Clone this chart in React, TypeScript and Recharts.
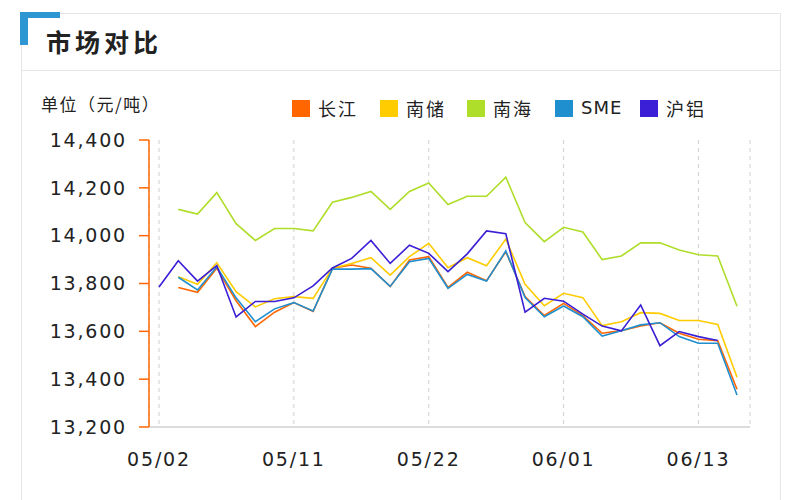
import React from "react";
import { LineChart, Line, XAxis, YAxis, CartesianGrid } from "recharts";

const dates = [
  "05/02", "05/03", "05/04", "05/07", "05/08", "05/09", "05/10", "05/11",
  "05/14", "05/15", "05/16", "05/17", "05/18", "05/21", "05/22", "05/23",
  "05/24", "05/25", "05/28", "05/29", "05/31", "06/01", "06/04", "06/05",
  "06/06", "06/07", "06/08", "06/11", "06/13", "06/14", "06/15",
];

const tickDates = ["05/02", "05/11", "05/22", "06/01", "06/13"];
const yTicks = [13200, 13400, 13600, 13800, 14000, 14200, 14400];

const changjiang = [
  null, 13783, 13763, 13864, 13728, 13620, 13680, 13720, 13683, 13864, 13877,
  13864, 13787, 13898, 13912, 13784, 13847, 13812, 13933, 13745, 13666, 13717,
  13666, 13592, 13603, 13622, 13636, 13592, 13567, 13561, 13358,
];
const nanchu = [
  null, 13828, 13797, 13887, 13766, 13702, 13736, 13745, 13738, 13864, 13884,
  13908, 13835, 13912, 13968, 13866, 13908, 13874, 13986, 13797, 13707, 13759,
  13741, 13624, 13640, 13678, 13675, 13645, 13645, 13629, 13408,
];
const nanhai = [
  null, 14110, 14090, 14180, 14050, 13980, 14030, 14030, 14020, 14140, 14160,
  14185, 14110, 14185, 14220, 14130, 14165, 14165, 14245, 14055, 13975, 14035,
  14015, 13900, 13915, 13970, 13970, 13940, 13920, 13915, 13705,
];
const sme = [
  null, 13826, 13773, 13870, 13740, 13640, 13694, 13720, 13685, 13860, 13860,
  13862, 13788, 13891, 13905, 13780, 13838, 13810, 13936, 13741, 13661, 13706,
  13661, 13580, 13602, 13627, 13636, 13578, 13550, 13550, 13334,
];
const hulv = [
  13785, 13895, 13810, 13875, 13660, 13725, 13725, 13740, 13790, 13865, 13905,
  13980, 13884, 13960, 13926, 13850, 13924, 14020, 14008, 13680, 13738, 13726,
  13672, 13622, 13602, 13710, 13540, 13599, 13578, 13562, null,
];

const seriesNames = ["长江", "南储", "南海", "SME", "沪铝"];
const seriesColors = ["#FF6600", "#FFCC00", "#AEDD2A", "#1F8FD0", "#3A1FD6"];
const seriesValues = [changjiang, nanchu, nanhai, sme, hulv];

const data = dates.map((d, i) => {
  const row: Record<string, any> = { date: d };
  seriesNames.forEach((n, k) => {
    row[n] = seriesValues[k][i];
  });
  return row;
});

const tickFont = "'DejaVu Sans', Verdana, sans-serif";
const cjkFont = "'Noto Sans CJK SC', 'Noto Sans', sans-serif";

const legendX = [292, 380, 467, 555, 640];

const LegendContent = () => (
  <div style={{ position: "absolute", left: 0, top: 98, width: 800, height: 24 }}>
    {seriesNames.map((n, i) => (
      <div
        key={n}
        style={{
          position: "absolute",
          left: legendX[i],
          top: 0,
          display: "flex",
          alignItems: "center",
          height: 20,
        }}
      >
        <div style={{ width: 18, height: 17, background: seriesColors[i] }} />
        <span
          style={{
            marginLeft: 8,
            fontFamily: n === "SME" ? tickFont : cjkFont,
            fontSize: 18,
            letterSpacing: n === "SME" ? 1 : 2,
            color: "#222",
            lineHeight: "20px",
          }}
        >
          {n}
        </span>
      </div>
    ))}
  </div>
);

const fmt = (v: number) => v.toLocaleString("en-US");

export default function App() {
  return (
    <div
      style={{
        position: "absolute",
        left: 0,
        top: 0,
        width: 800,
        height: 500,
        background: "#fff",
        overflow: "hidden",
      }}
    >
      {/* card frame */}
      <div
        style={{
          position: "absolute",
          left: 21,
          top: 13,
          width: 758,
          height: 500,
          borderLeft: "1.5px solid #e6e6e6",
          borderTop: "1.5px solid #e6e6e6",
          borderRight: "1.5px solid #e6e6e6",
        }}
      />
      <div
        style={{
          position: "absolute",
          left: 21,
          top: 70,
          width: 759,
          height: 0,
          borderTop: "1.5px solid #e6e6e6",
        }}
      />
      {/* blue corner */}
      <div style={{ position: "absolute", left: 20, top: 12, width: 40, height: 6, background: "#2E96D3" }} />
      <div style={{ position: "absolute", left: 20, top: 12, width: 8, height: 33, background: "#2E96D3" }} />
      {/* title */}
      <div
        style={{
          position: "absolute",
          left: 46,
          top: 24,
          fontFamily: cjkFont,
          fontWeight: 700,
          fontSize: 25,
          letterSpacing: 4,
          lineHeight: "34px",
          color: "#222",
        }}
      >
        市场对比
      </div>
      {/* unit */}
      <div
        style={{
          position: "absolute",
          left: 41,
          top: 92,
          fontFamily: cjkFont,
          fontSize: 17,
          letterSpacing: 1.5,
          lineHeight: "24px",
          color: "#222",
        }}
      >
        单位（元/吨）
      </div>
      <LegendContent />
      <div style={{ position: "absolute", left: 0, top: 0 }}>
        <LineChart
          width={800}
          height={500}
          data={data}
          margin={{ top: 140, right: 50, bottom: 43, left: 0 }}
        >
          <CartesianGrid
            horizontal={false}
            vertical={true}
            stroke="#cfcfcf"
            strokeDasharray="4 4"
          />
          <XAxis
            dataKey="date"
            scale="point"
            ticks={tickDates}
            interval={0}
            padding={{ left: 10, right: 13 }}
            height={30}
            tickLine={false}
            tickSize={6}
            tickMargin={20}
            axisLine={{ stroke: "#d0d0d0", strokeWidth: 1.5 }}
            tick={{ fill: "#222", fontSize: 19, fontFamily: tickFont, letterSpacing: 1.8 }}
          />
          <YAxis
            domain={[13200, 14400]}
            ticks={yTicks}
            width={149}
            interval={0}
            allowDataOverflow
            tickFormatter={fmt}
            tickSize={10}
            tickMargin={12}
            axisLine={{ stroke: "#FF6600", strokeWidth: 1.5 }}
            tickLine={{ stroke: "#FF6600", strokeWidth: 1.5 }}
            tick={{ fill: "#222", fontSize: 19, fontFamily: tickFont, letterSpacing: 1.8 }}
          />
          {seriesNames.map((n, i) => (
            <Line
              key={n}
              type="linear"
              dataKey={n}
              stroke={seriesColors[i]}
              strokeWidth={1.6}
              dot={false}
              activeDot={false}
              isAnimationActive={false}
            />
          ))}
        </LineChart>
      </div>
    </div>
  );
}
